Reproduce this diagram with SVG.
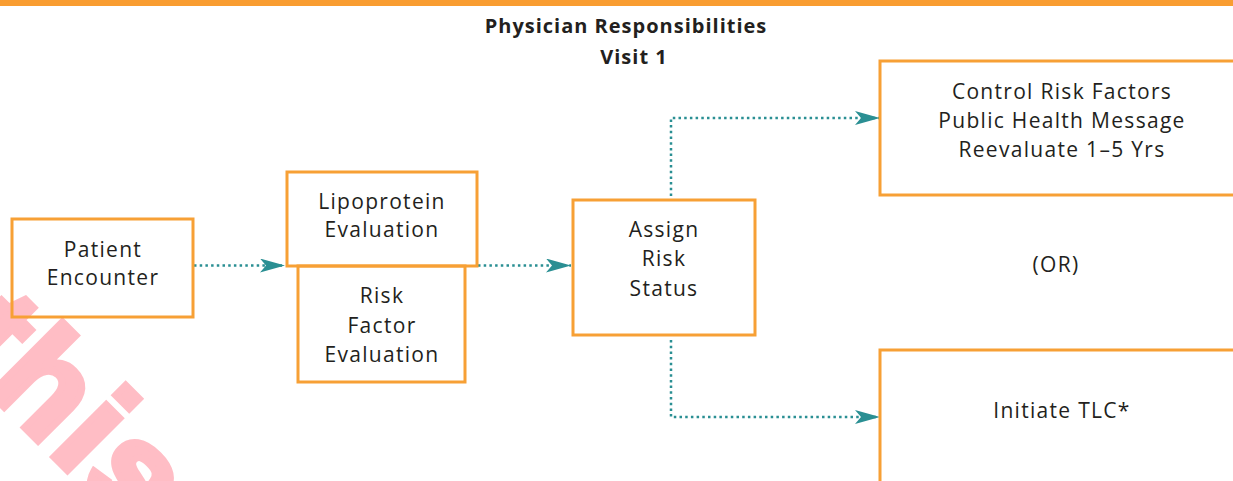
<svg xmlns="http://www.w3.org/2000/svg" width="1233" height="481" viewBox="0 0 1233 481">
<defs>
<style>
.box{fill:none;stroke:#F7A035;stroke-width:3}
.t{font-family:"Open Sans","Noto Sans",sans-serif;font-size:21px;fill:#231F20;text-anchor:middle;letter-spacing:1.3px}
.title{font-family:"Open Sans","Noto Sans",sans-serif;font-size:20px;font-weight:bold;fill:#231F20;text-anchor:middle;letter-spacing:1px}
.con{fill:none;stroke:#2A8F93;stroke-width:2.5;stroke-dasharray:2.5 3.2}
.wm{font-family:"Liberation Sans",Arial,sans-serif;font-size:140px;font-weight:bold;fill:#FFBDC5;stroke:#FFBDC5;stroke-width:7;letter-spacing:4px}
</style>
<marker id="ah" markerUnits="userSpaceOnUse" markerWidth="26" markerHeight="14" refX="25" refY="7" orient="auto">
<path d="M0,0 L25,7 L0,14 L6,7 Z" fill="#2A8F93"/>
</marker>
</defs>
<rect x="0" y="0" width="1233" height="481" fill="#fff"/>
<text class="wm" transform="translate(-52,351) rotate(45)">this</text>
<rect x="0" y="0" width="1233" height="6" fill="#F99D31"/>
<g id="title">
<text class="title" x="626" y="33">Physician Responsibilities</text>
<text class="title" x="634" y="64">Visit 1</text>
</g>
<g id="connectors">
<path class="con" d="M194,265.5 H285" marker-end="url(#ah)"/>
<path class="con" d="M478,265.5 H571" marker-end="url(#ah)"/>
<path class="con" d="M671,196 V118 H880" marker-end="url(#ah)"/>
<path class="con" d="M671,340 V417 H880" marker-end="url(#ah)"/>
</g>
<g id="patient">
<rect class="box" x="12" y="219" width="181" height="98"/>
<text class="t" x="103" y="257">Patient</text>
<text class="t" x="103" y="285">Encounter</text>
</g>
<g id="riskfactor">
<rect class="box" x="298" y="266" width="167" height="116"/>
<text class="t" x="382" y="303">Risk</text>
<text class="t" x="382" y="333">Factor</text>
<text class="t" x="382" y="362">Evaluation</text>
</g>
<g id="lipoprotein">
<rect class="box" x="287" y="172" width="190" height="94"/>
<text class="t" x="382" y="209">Lipoprotein</text>
<text class="t" x="382" y="237">Evaluation</text>
</g>
<g id="assign">
<rect class="box" x="573" y="200" width="182" height="135"/>
<text class="t" x="664" y="237">Assign</text>
<text class="t" x="664" y="266">Risk</text>
<text class="t" x="664" y="296">Status</text>
</g>
<g id="control">
<rect class="box" x="880" y="61" width="364" height="134"/>
<text class="t" x="1062" y="99">Control Risk Factors</text>
<text class="t" x="1062" y="128">Public Health Message</text>
<text class="t" x="1062" y="157">Reevaluate 1–5 Yrs</text>
</g>
<g id="or">
<text class="t" x="1056" y="272">(OR)</text>
</g>
<g id="tlc">
<rect class="box" x="880" y="350" width="364" height="150"/>
<text class="t" x="1062" y="418">Initiate TLC*</text>
</g>
</svg>
